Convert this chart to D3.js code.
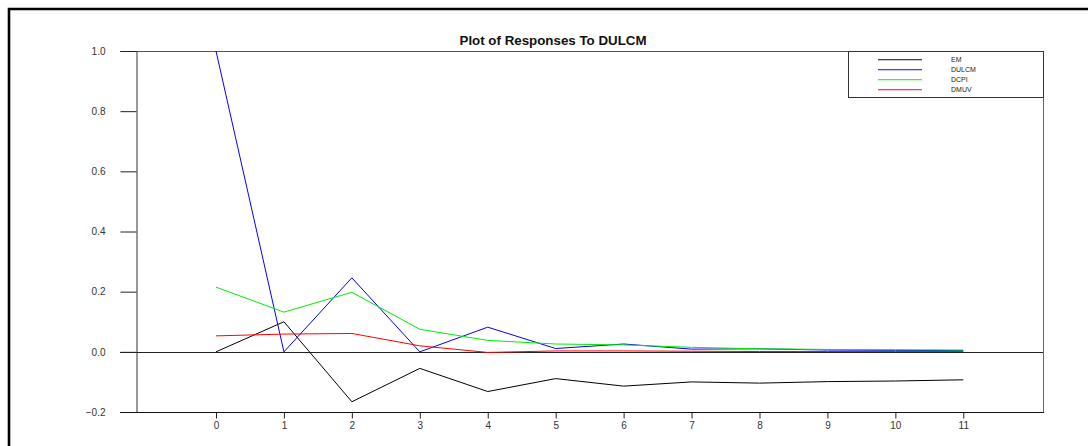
<!DOCTYPE html>
<html>
<head>
<meta charset="utf-8">
<script src="https://cdn.jsdelivr.net/npm/d3@7"></script>
<style>
  html, body { margin: 0; padding: 0; background: #fff; }
  svg { display: block; }
  text { font-family: Arial, "Liberation Sans", Helvetica, sans-serif; }
</style>
</head>
<body>
<svg id="chart" width="1088" height="446"></svg>
<script>
const steps = [0, 1, 2, 3, 4, 5, 6, 7, 8, 9, 10, 11];
const seriesNames = ["EM", "DULCM", "DCPI", "DMUV"];
const seriesColors = ["#000000", "#0000ff", "#00ee00", "#ff0000"];
const em    = [0.000, 0.100, -0.166, -0.055, -0.132, -0.089, -0.114, -0.100, -0.104, -0.099, -0.097, -0.093];
const dulcm = [1.000, 0.000, 0.246, 0.000, 0.082, 0.011, 0.026, 0.009, 0.010, 0.006, 0.005, 0.004];
const dcpi  = [0.215, 0.132, 0.198, 0.075, 0.038, 0.026, 0.023, 0.015, 0.010, 0.008, 0.007, 0.006];
const dmuv  = [0.053, 0.059, 0.061, 0.020, -0.002, 0.003, 0.003, 0.002, 0.001, 0.001, 0.001, 0.001];
const yTicks = [-0.2, 0.0, 0.2, 0.4, 0.6, 0.8, 1.0];
const title = "Plot of Responses To DULCM";

const seriesValues = [em, dulcm, dcpi, dmuv];

const svg = d3.select("#chart");
const plot = { left: 136, right: 1043, top: 51, bottom: 412 };

const x = d3.scaleLinear().domain([0, 11]).range([216, 963.3]);
const y = d3.scaleLinear().domain([-0.2, 1.0]).range([plot.bottom, plot.top]);

// outer frame
svg.append("path")
  .attr("d", `M1088,9 H9 V446`)
  .attr("fill", "none").attr("stroke", "#000").attr("stroke-width", 2.6);

// title
svg.append("text")
  .attr("x", 553).attr("y", 44.5)
  .attr("text-anchor", "middle")
  .attr("font-size", 12.5).attr("font-weight", "bold")
  .attr("fill", "#111")
  .attr("textLength", 187).attr("lengthAdjust", "spacingAndGlyphs")
  .text(title);

// frame lines of plot
svg.append("line").attr("x1", 120).attr("x2", plot.right).attr("y1", plot.top + 0.5).attr("y2", plot.top + 0.5)
  .attr("stroke", "#555").attr("stroke-width", 1);
svg.append("line").attr("x1", plot.right + 0.5).attr("x2", plot.right + 0.5).attr("y1", plot.top).attr("y2", plot.bottom)
  .attr("stroke", "#666").attr("stroke-width", 1);

// Y axis
const yAxis = d3.axisLeft(y).tickValues(yTicks).tickFormat(d3.format(".1f")).tickSize(16).tickPadding(15);
const gy = svg.append("g").attr("transform", `translate(${plot.left + 0.5},0)`).call(yAxis);
gy.select(".domain").attr("stroke", "#333");
gy.selectAll(".tick line").attr("stroke", "#222");
gy.selectAll(".tick text").attr("font-size", 10).attr("fill", "#333")
  .attr("font-family", "Arial, 'Liberation Sans', sans-serif");

// X axis
const xAxis = d3.axisBottom(x).tickValues(steps).tickFormat(d3.format("d")).tickSize(6).tickPadding(3).tickSizeOuter(0);
const gx = svg.append("g").attr("transform", `translate(0,${plot.bottom + 0.5})`).call(xAxis);
gx.select(".domain").remove();
gx.append("line").attr("x1", 120).attr("x2", plot.right + 1).attr("y1", 0).attr("y2", 0).attr("stroke", "#111");
gx.selectAll(".tick line").attr("stroke", "#222");
gx.selectAll(".tick text").attr("font-size", 10).attr("fill", "#333")
  .attr("font-family", "Arial, 'Liberation Sans', sans-serif");

// zero line
svg.append("line").attr("x1", 120).attr("x2", plot.right).attr("y1", Math.round(y(0)) + 0.5).attr("y2", Math.round(y(0)) + 0.5)
  .attr("stroke", "#222").attr("stroke-width", 1);

// series
const line = d3.line().x((d, i) => x(steps[i])).y(d => y(d));
seriesValues.forEach((vals, k) => {
  svg.append("path")
    .datum(vals)
    .attr("d", line)
    .attr("fill", "none")
    .attr("stroke", seriesColors[k])
    .attr("stroke-width", 1);
});

// legend
const leg = { x0: 848, x1: 1043, y0: 51, y1: 97 };
svg.append("rect")
  .attr("x", leg.x0 + 0.5).attr("y", leg.y0 + 0.5)
  .attr("width", leg.x1 - leg.x0).attr("height", leg.y1 - leg.y0)
  .attr("fill", "#fff").attr("stroke", "#333").attr("stroke-width", 1);
const legG = svg.append("g").attr("class", "legend");
seriesNames.forEach((name, k) => {
  const yy = 59 + k * 10;
  legG.append("rect").attr("x", 878).attr("y", yy).attr("width", 44).attr("height", 1.3)
    .attr("fill", seriesColors[k]).attr("fill-opacity", 0.75);
  legG.append("text").attr("x", 951).attr("y", yy + 3)
    .attr("font-size", 7).attr("fill", "#222").text(name);
});
</script>
</body>
</html>
